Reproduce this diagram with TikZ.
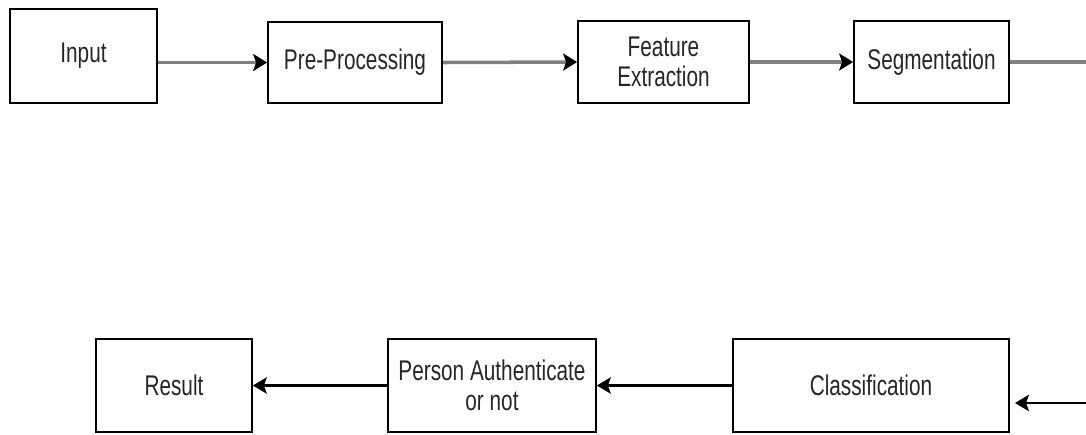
\documentclass[tikz,border=0pt]{standalone}
\usepackage{fontspec}
\setmainfont{Liberation Sans}[FakeStretch=0.73]
\usetikzlibrary{arrows.meta}
\tikzset{
  blok/.style={draw, line width=1pt, inner sep=0pt, align=center,
    font=\fontsize{16.2}{16.8}\selectfont, text=black!85},
  garisatas/.style={draw=black!50, line width=2pt},
  panahatas/.style={garisatas, -{Stealth[length=2.8mm,width=3.4mm,inset=0.6mm,black]}},
  panahbawah/.style={draw=black, line width=1.2pt, -{Stealth[length=2.8mm,width=3.3mm,inset=0.6mm]}}
}
\begin{document}
\begin{tikzpicture}[x=0.02cm,y=-0.02cm]
	\useasboundingbox (0,0) rectangle (1086,434);
	\clip (0,0) rectangle (1086,434);
	
	% top row
	\node[blok, minimum width=2.94cm, minimum height=1.88cm] (input) at (83.5,56) {Input};
	\node[blok, minimum width=3.48cm, minimum height=1.62cm] (pre) at (355,62.5) {Pre-Processing};
	\node[blok, minimum width=3.42cm, minimum height=1.64cm] (feat) at (663.5,62) {Feature\\Extraction};
	\node[blok, minimum width=3.10cm, minimum height=1.64cm] (seg) at (931.5,62) {Segmentation};
	
	% bottom row
	\node[blok, minimum width=3.12cm, minimum height=1.86cm] (result) at (174,385.5) {Result};
	\node[blok, minimum width=4.16cm, minimum height=1.86cm] (person) at (492,385.5) {Person Authenticate\\or not};
	\node[blok, minimum width=5.52cm, minimum height=1.86cm] (kelas) at (871,385.5) {Classification};
	
	\coordinate (keluar) at (1100,62);
	\coordinate (masuk) at (1100,403);
	\coordinate (ujung) at (1015,403);
	
	\draw[panahatas] (input.east |- pre.west) -- (pre.west);
	\draw[panahatas] (pre.east) -- (feat.west);
	\draw[panahatas] (feat.east) -- (seg.west);
	\draw[garisatas] (seg.east) -- (keluar);
	
	\draw[panahbawah] (masuk) -- (ujung);
	\draw[panahbawah] (kelas.west) -- (person.east);
	\draw[panahbawah] (person.west) -- (result.east);
\end{tikzpicture}
\end{document}
